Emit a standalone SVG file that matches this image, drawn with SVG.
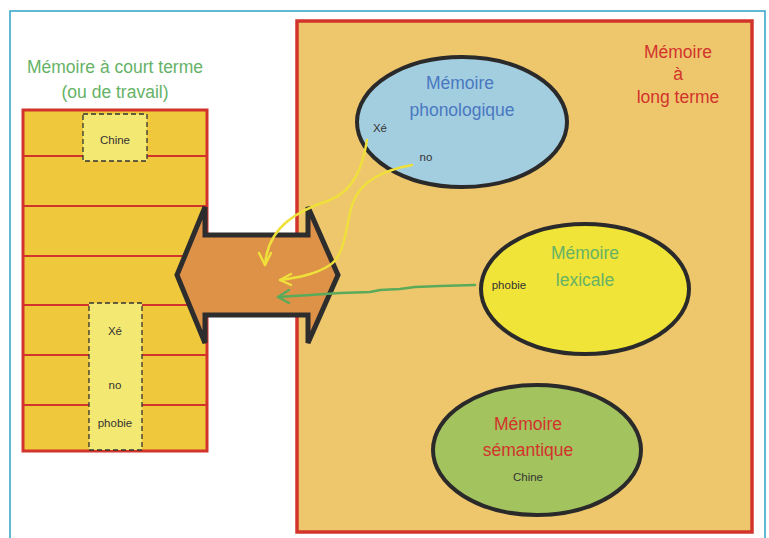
<svg xmlns="http://www.w3.org/2000/svg" width="769" height="538" viewBox="0 0 769 538">
<defs>
<style>
.t{font-family:"Liberation Sans",Arial,sans-serif;text-anchor:middle}
.big{font-size:17.5px}
.sm{font-size:11.5px;fill:#333}
.red{fill:#d2342c}
.ell{stroke:#2a2a2a;stroke-width:4}
.row{stroke:#d2342c;stroke-width:2}
.dash{fill:#f3e872;stroke:#333;stroke-width:1.3;stroke-dasharray:5 3}
.yl{fill:none;stroke:#f0e03a;stroke-width:2.4;stroke-linecap:round;stroke-linejoin:round}
.gl{fill:none;stroke:#5aaa5a;stroke-width:2.5;stroke-linecap:round;stroke-linejoin:round}
</style>
</defs>
<rect width="769" height="538" fill="#fff"/>
<rect x="10" y="11" width="755" height="540" fill="none" stroke="#2ea2c9" stroke-width="1.5"/>

<g id="court-terme">
<text class="t big" x="115" y="73" fill="#66b266">Mémoire à court terme</text>
<text class="t big" x="115" y="98" fill="#66b266">(ou de travail)</text>
<rect x="23" y="110" width="184" height="341" fill="#efc83c" stroke="#d2342c" stroke-width="3"/>
<line class="row" x1="23" y1="156" x2="207" y2="156"/>
<line class="row" x1="23" y1="206" x2="207" y2="206"/>
<line class="row" x1="23" y1="256" x2="207" y2="256"/>
<line class="row" x1="23" y1="305" x2="207" y2="305"/>
<line class="row" x1="23" y1="355" x2="207" y2="355"/>
<line class="row" x1="23" y1="405" x2="207" y2="405"/>
<rect class="dash" x="83" y="114" width="64" height="47"/>
<text class="t sm" x="115" y="144">Chine</text>
<rect class="dash" x="89" y="303" width="53" height="147"/>
<text class="t sm" x="115" y="335">Xé</text>
<text class="t sm" x="115" y="389">no</text>
<text class="t sm" x="115" y="427">phobie</text>
</g>

<g id="long-terme">
<rect x="297" y="21" width="455" height="511" fill="#eec76d" stroke="#d2342c" stroke-width="3.5"/>
<text class="t big red" x="678" y="58">Mémoire</text>
<text class="t big red" x="678" y="80">à</text>
<text class="t big red" x="678" y="103">long terme</text>
</g>

<g id="fleche">
<path d="M177,275 L205,207 L205,235 L308,235 L308,207 L338,275 L308,343 L308,315 L205,315 L205,343 Z" fill="#dd9248" stroke="#2d2d2d" stroke-width="5" stroke-linejoin="miter"/>
</g>

<g id="phonologique">
<ellipse class="ell" cx="462" cy="122" rx="105" ry="65" fill="#a3cee0"/>
<text class="t big" x="460" y="89" fill="#4a78c0">Mémoire</text>
<text class="t big" x="462" y="116" fill="#4a78c0">phonologique</text>
<text class="t sm" x="380" y="132">Xé</text>
<text class="t sm" x="426" y="161">no</text>
</g>

<g id="lexicale">
<ellipse class="ell" cx="585" cy="289" rx="104" ry="65" fill="#f0e438"/>
<text class="t big" x="585" y="259" fill="#66b266">Mémoire</text>
<text class="t big" x="585" y="286" fill="#66b266">lexicale</text>
<text class="t sm" x="509" y="289">phobie</text>
</g>

<g id="semantique">
<ellipse class="ell" cx="537" cy="450" rx="104" ry="65" fill="#a3c35e"/>
<text class="t big red" x="528" y="430">Mémoire</text>
<text class="t big red" x="528" y="456">sémantique</text>
<text class="t sm" x="528" y="481">Chine</text>
</g>

<g id="connecteurs">
<path class="yl" d="M367,140 C363,165 355,190 330,200 C300,210 268,225 265,265"/>
<path class="yl" d="M259,253 L265,265 L271,253"/>
<path class="yl" d="M412,165 C385,170 360,180 352,205 C345,230 345,255 330,265 C315,275 295,278 280,280"/>
<path class="yl" d="M291,274 L280,280 L291,285"/>
<path class="gl" d="M475,285 L440,286 L415,287 L400,289 L380,290 L370,292 L340,293 L310,295 L278,297"/>
<path class="gl" d="M289,290 L278,297 L289,303"/>
</g>
</svg>
